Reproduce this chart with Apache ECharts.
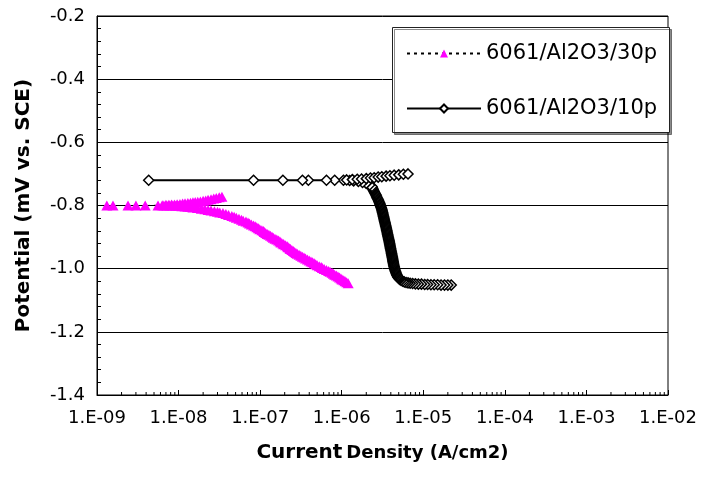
<!DOCTYPE html>
<html>
<head>
<meta charset="utf-8">
<script src="https://cdn.jsdelivr.net/npm/echarts@6/dist/echarts.min.js"></script>
<style>html,body{margin:0;padding:0;background:#fff}#c{width:701px;height:484px}</style>
</head>
<body>
<div id="c"></div>
<script>
// ---- data ----
var seriesNames = ['6061/Al2O3/30p', '6061/Al2O3/10p'];
var yTicks = [-1.4, -1.2, -1.0, -0.8, -0.6, -0.4, -0.2];
var xTickLabels = ['1.E-09', '1.E-08', '1.E-07', '1.E-06', '1.E-05', '1.E-04', '1.E-03', '1.E-02'];
var xDecades = [1e-9, 1e-8, 1e-7, 1e-6, 1e-5, 1e-4, 1e-3];
var xMinorMultipliers = [2, 3, 4, 5, 6, 7, 8, 9];

// 6061/Al2O3/30p  (current density A/cm2, potential)
var current30 = [
  1.20e-6,1.15e-6,1.10e-6,1.06e-6,1.01e-6,9.8e-7,9.4e-7,9.0e-7,8.6e-7,8.2e-7,7.9e-7,7.6e-7,7.2e-7,6.9e-7,6.5e-7,6.1e-7,5.8e-7,5.6e-7,5.3e-7,5.0e-7,
  4.8e-7,4.6e-7,4.4e-7,4.2e-7,4.0e-7,3.8e-7,3.6e-7,3.45e-7,3.3e-7,3.15e-7,3.0e-7,2.85e-7,2.75e-7,2.65e-7,2.55e-7,2.45e-7,2.35e-7,2.3e-7,2.2e-7,2.15e-7,
  2.05e-7,1.95e-7,1.9e-7,1.8e-7,1.75e-7,1.68e-7,1.6e-7,1.52e-7,1.45e-7,1.4e-7,1.34e-7,1.28e-7,1.22e-7,1.17e-7,1.12e-7,1.1e-7,1.05e-7,9.9e-8,9.5e-8,9.1e-8,
  8.7e-8,8.3e-8,7.8e-8,7.4e-8,7.1e-8,6.7e-8,6.2e-8,5.9e-8,5.5e-8,5.1e-8,4.8e-8,4.5e-8,4.1e-8,3.8e-8,3.5e-8,3.2e-8,3.0e-8,2.75e-8,2.5e-8,2.3e-8,
  2.1e-8,1.9e-8,1.7e-8,1.5e-8,1.4e-8,1.3e-8,1.2e-8,1.1e-8,1.0e-8,9.2e-9,8.5e-9,7.8e-9,7.2e-9,6.6e-9,5.6e-9,3.0e-9,1.57e-9,
  1.32e-9,2.4e-9,3.9e-9,
  6.3e-9,7.0e-9,7.6e-9,8.2e-9,8.9e-9,9.6e-9,1.04e-8,1.12e-8,1.2e-8,1.3e-8,1.4e-8,1.5e-8,1.6e-8,1.72e-8,1.85e-8,2.0e-8,2.15e-8,2.3e-8,2.5e-8,2.7e-8,2.9e-8,3.15e-8,3.4e-8];
var potential30 = [
  -1.046,-1.043,-1.040,-1.037,-1.034,-1.031,-1.028,-1.025,-1.022,-1.019,-1.016,-1.013,-1.010,-1.007,-1.004,-1.001,-0.998,-0.995,-0.992,-0.989,
  -0.986,-0.983,-0.980,-0.977,-0.974,-0.971,-0.968,-0.965,-0.962,-0.959,-0.956,-0.953,-0.950,-0.947,-0.944,-0.941,-0.938,-0.935,-0.932,-0.929,
  -0.926,-0.923,-0.920,-0.917,-0.914,-0.911,-0.908,-0.905,-0.902,-0.899,-0.896,-0.893,-0.890,-0.887,-0.884,-0.881,-0.878,-0.875,-0.872,-0.869,
  -0.866,-0.863,-0.860,-0.857,-0.854,-0.851,-0.848,-0.845,-0.842,-0.839,-0.836,-0.833,-0.830,-0.827,-0.824,-0.822,-0.820,-0.818,-0.816,-0.814,
  -0.812,-0.810,-0.808,-0.806,-0.805,-0.804,-0.803,-0.802,-0.801,-0.801,-0.800,-0.800,-0.800,-0.800,-0.800,-0.800,-0.800,
  -0.800,-0.800,-0.800,
  -0.799,-0.798,-0.798,-0.797,-0.797,-0.796,-0.795,-0.794,-0.793,-0.792,-0.791,-0.790,-0.789,-0.788,-0.787,-0.785,-0.784,-0.782,-0.780,-0.778,-0.776,-0.774,-0.772];

// 6061/Al2O3/10p  [current density A/cm2, potential], in scan order
var tail10 = [[2.2e-5,-1.052],[2.0e-5,-1.052],[1.82e-5,-1.052],[1.65e-5,-1.052],[1.5e-5,-1.051],[1.36e-5,-1.051],[1.24e-5,-1.051],[1.13e-5,-1.050],
  [1.04e-5,-1.050],[9.5e-6,-1.049],[8.7e-6,-1.049],[8.0e-6,-1.048],[7.4e-6,-1.047],[6.9e-6,-1.046],[6.5e-6,-1.045],[6.15e-6,-1.044],[5.85e-6,-1.042],
  [5.6e-6,-1.040],[5.35e-6,-1.037]];
var wall10 = [[5.15e-6,-1.034],[5.07e-6,-1.032],[5.0e-6,-1.030],[4.94e-6,-1.028],[4.88e-6,-1.026],[4.83e-6,-1.024],[4.77e-6,-1.021],[4.72e-6,-1.019],
  [4.67e-6,-1.016],[4.62e-6,-1.013],[4.58e-6,-1.010],[4.54e-6,-1.007],[4.5e-6,-1.004],[4.46e-6,-1.001],[4.43e-6,-0.998],[4.4e-6,-0.995],[4.38e-6,-0.992],
  [4.35e-6,-0.989],[4.33e-6,-0.986],[4.3e-6,-0.983],[4.28e-6,-0.980],[4.26e-6,-0.977],[4.24e-6,-0.974],[4.22e-6,-0.971],[4.2e-6,-0.968],[4.18e-6,-0.965],
  [4.16e-6,-0.962],[4.13e-6,-0.959],[4.11e-6,-0.956],[4.09e-6,-0.953],[4.07e-6,-0.950],[4.05e-6,-0.947],[4.03e-6,-0.944],[4.0e-6,-0.941],[3.98e-6,-0.938],
  [3.96e-6,-0.935],[3.94e-6,-0.932],[3.92e-6,-0.929],[3.9e-6,-0.926],[3.88e-6,-0.923],[3.86e-6,-0.920],[3.84e-6,-0.917],[3.82e-6,-0.914],[3.8e-6,-0.911],
  [3.77e-6,-0.908],[3.75e-6,-0.905],[3.73e-6,-0.902],[3.7e-6,-0.899],[3.68e-6,-0.896],[3.66e-6,-0.893],[3.64e-6,-0.890],[3.62e-6,-0.887],[3.6e-6,-0.884],
  [3.58e-6,-0.881],[3.56e-6,-0.878],[3.54e-6,-0.875],[3.52e-6,-0.872],[3.5e-6,-0.869],[3.47e-6,-0.866],[3.45e-6,-0.863],[3.43e-6,-0.860],[3.41e-6,-0.857],
  [3.39e-6,-0.854],[3.36e-6,-0.851],[3.34e-6,-0.848],[3.32e-6,-0.845],[3.3e-6,-0.842],[3.28e-6,-0.839],[3.26e-6,-0.836],[3.24e-6,-0.833],[3.22e-6,-0.830],
  [3.2e-6,-0.827],[3.18e-6,-0.824],[3.16e-6,-0.821],[3.14e-6,-0.818],[3.12e-6,-0.815],[3.1e-6,-0.812],[3.07e-6,-0.809],[3.04e-6,-0.806],[3.01e-6,-0.803],
  [2.98e-6,-0.800],[2.95e-6,-0.797],[2.93e-6,-0.794],[2.9e-6,-0.791],[2.86e-6,-0.788],[2.83e-6,-0.785],[2.8e-6,-0.782],[2.76e-6,-0.779],[2.72e-6,-0.776],
  [2.69e-6,-0.773],[2.66e-6,-0.770],[2.63e-6,-0.767],[2.6e-6,-0.764],[2.56e-6,-0.761],[2.52e-6,-0.758],[2.49e-6,-0.755],[2.45e-6,-0.752],[2.42e-6,-0.749],
  [2.4e-6,-0.746],[2.37e-6,-0.743],[2.35e-6,-0.740]];
var top10 = [[2.2e-6,-0.735],[2.0e-6,-0.730],[1.8e-6,-0.727],[1.6e-6,-0.724],[1.4e-6,-0.722],[1.25e-6,-0.721],[1.05e-6,-0.720],[8.2e-7,-0.720],
  [6.5e-7,-0.720],[3.9e-7,-0.720],[3.3e-7,-0.720],[1.9e-7,-0.720],[8.3e-8,-0.720],[4.3e-9,-0.720]];
var anodic10 = [[1.15e-6,-0.719],[1.35e-6,-0.718],[1.55e-6,-0.717],[1.75e-6,-0.716],[2.0e-6,-0.715],[2.25e-6,-0.713],[2.5e-6,-0.712],[2.8e-6,-0.710],
  [3.1e-6,-0.709],[3.5e-6,-0.707],[3.9e-6,-0.706],[4.4e-6,-0.704],[5.0e-6,-0.703],[5.7e-6,-0.701],[6.5e-6,-0.700]];

function zip(a, b) { return a.map(function (v, i) { return [v, b[i]]; }); }
var data30 = zip(current30, potential30);
var data10 = [].concat(tail10, wall10, top10, anodic10);
var xMinorTicks = [];
xDecades.forEach(function (d) { xMinorMultipliers.forEach(function (k) { xMinorTicks.push([d * k, yTicks[0]]); }); });

var FONT = 'DejaVu Sans';
var chart = echarts.init(document.getElementById('c'), null, {renderer: 'canvas'});
chart.setOption({
  animation: false,
  backgroundColor: '#fff',
  textStyle: {fontFamily: FONT},
  grid: {left: 97, right: 33, top: 16, bottom: 89, show: true, borderColor: '#000', borderWidth: 1},
  graphic: [{
    type: 'rect', left: 392, top: 27, z: 50,
    shape: {width: 277, height: 105},
    style: {fill: '#fff', stroke: '#222', lineWidth: 1,
      shadowColor: 'rgba(0,0,0,0.45)', shadowOffsetX: 2, shadowOffsetY: 2, shadowBlur: 0}
  }],
  legend: {
    orient: 'vertical', left: 392, top: 27, z: 60,
    data: seriesNames,
    itemWidth: 74, itemHeight: 10, itemGap: 34,
    padding: [16, 6, 10, 14],
    textStyle: {fontFamily: FONT, fontSize: 21, color: '#000'}
  },
  xAxis: {
    type: 'log', logBase: 10, min: 1e-9, max: 1e-2,
    name: '{a|Current} {b|Density (A/cm2)}', nameLocation: 'middle', nameGap: 48,
    nameTextStyle: {rich: {
      a: {fontFamily: FONT, fontSize: 20, fontWeight: 'bold', color: '#000'},
      b: {fontFamily: FONT, fontSize: 18, fontWeight: 'bold', color: '#000'}
    }},
    axisLine: {show: true, lineStyle: {color: '#000', width: 1}},
    axisTick: {show: true, inside: true, length: 5, lineStyle: {color: '#000'}},
    splitLine: {show: false},
    axisLabel: {
      fontFamily: FONT, fontSize: 18, color: '#000', margin: 14,
      formatter: function (v) { var e = Math.round(Math.log10(v)); return xTickLabels[e + 9]; }
    }
  },
  yAxis: {
    type: 'value', min: yTicks[0], max: yTicks[yTicks.length - 1], interval: 0.2,
    name: 'Potential (mV vs. SCE)', nameLocation: 'middle', nameGap: 63, nameRotate: 90,
    nameTextStyle: {fontFamily: FONT, fontSize: 20, fontWeight: 'bold', color: '#000'},
    axisLine: {show: true, lineStyle: {color: '#000', width: 1}},
    axisTick: {show: true, inside: true, length: 4, lineStyle: {color: '#000'}},
    minorTick: {show: true, splitNumber: 5, length: 4, lineStyle: {color: '#000'}},
    splitLine: {show: true, lineStyle: {color: '#000', width: 1}},
    axisLabel: {fontFamily: FONT, fontSize: 18, color: '#000', margin: 12,
      formatter: function (v) { return v.toFixed(1); }}
  },
  series: [
    {
      name: seriesNames[0], type: 'line', data: data30,
      symbol: 'triangle', symbolSize: [11, 10],
      itemStyle: {color: '#FF00FF', borderWidth: 0},
      lineStyle: {color: '#000', width: 1, type: [3, 4]},
      z: 3
    },
    {
      name: seriesNames[1], type: 'line', data: data10,
      symbol: 'diamond', symbolSize: [10, 10],
      itemStyle: {color: '#fff', borderColor: '#000', borderWidth: 1.5},
      lineStyle: {color: '#000', width: 2},
      z: 4
    },
    {
      type: 'custom', silent: true, legendHoverLink: false,
      data: xMinorTicks,
      renderItem: function (params, api) {
        var p = api.coord([api.value(0), api.value(1)]);
        return {type: 'line', shape: {x1: p[0], y1: p[1], x2: p[0], y2: p[1] - 3},
          style: {stroke: '#000', lineWidth: 1}};
      },
      z: 5
    }
  ]
});
</script>
</body>
</html>
